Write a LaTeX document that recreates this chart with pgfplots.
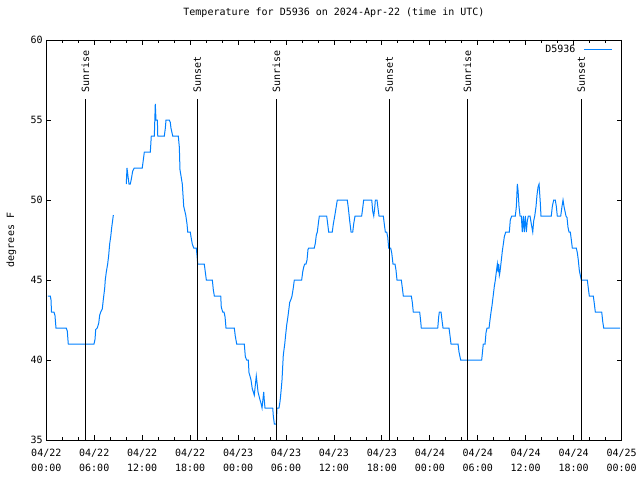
\documentclass[border=0pt]{standalone}
\usepackage{pgfplots}
\pgfplotsset{compat=1.18}
\usepackage{pgfplotstable}
\usepackage{fontspec}
\setmainfont{DejaVu Sans Mono}
\definecolor{dblue}{RGB}{0,128,255}

\pgfplotstableread{
h t
0.21 44.0
0.50 44.0
0.59 43.75
0.65 43.0
0.96 43.0
1.09 42.77
1.21 42.0
2.50 42.0
2.63 41.8
2.75 41.0
5.97 41.0
6.10 41.3
6.18 41.9
6.38 42.0
6.56 42.3
6.68 42.8
6.81 43.0
7.01 43.2
7.13 43.75
7.31 44.5
7.38 45.0
7.51 45.5
7.68 46.0
7.80 46.5
7.93 47.25
8.06 47.7
8.19 48.3
8.31 48.75
8.39 49.06
9.00 nan
10.01 51.0
10.10 52.0
10.22 51.5
10.35 51.0
10.51 51.0
10.64 51.3
10.81 51.8
11.01 52.0
12.01 52.0
12.27 53.0
13.02 53.0
13.14 54.0
13.52 54.0
13.64 56.0
13.73 55.0
13.90 55.0
13.95 54.0
14.77 54.0
14.90 54.5
14.98 55.0
15.39 55.0
15.52 54.85
15.60 54.5
15.82 54.0
16.52 54.0
16.65 53.3
16.73 51.9
17.02 51.0
17.20 49.6
17.45 49.06
17.61 48.5
17.70 48.0
18.02 48.0
18.11 47.7
18.27 47.25
18.45 47.0
18.77 47.0
18.86 46.56
18.95 46.0
19.77 46.0
19.90 45.5
20.03 45.0
20.78 45.0
20.90 44.4
21.03 44.0
21.83 44.0
21.90 43.3
22.08 43.0
22.24 43.0
22.37 42.7
22.49 42.0
23.53 42.0
23.65 41.5
23.83 41.0
24.78 41.0
24.91 40.2
25.08 40.0
25.28 40.0
25.37 39.2
25.49 39.0
25.62 38.75
25.78 38.2
25.91 38.0
26.03 37.8
26.28 39.0
26.37 38.6
26.50 38.0
26.75 37.5
26.87 37.3
27.00 37.0
27.21 38.0
27.28 37.5
27.37 37.0
28.34 37.0
28.41 36.5
28.54 36.0
28.79 36.0
28.87 37.0
29.12 37.0
29.25 37.4
29.37 38.0
29.50 38.75
29.66 40.3
29.84 41.0
29.96 41.6
30.09 42.2
30.21 42.6
30.34 43.1
30.46 43.6
30.63 43.8
30.75 44.0
30.91 44.5
31.04 45.0
31.96 45.0
32.09 45.5
32.21 45.8
32.34 46.0
32.50 46.0
32.63 46.25
32.75 46.9
32.84 47.0
33.54 47.0
33.67 47.3
33.79 47.8
33.92 48.0
34.04 48.5
34.17 49.0
35.09 49.0
35.22 48.5
35.34 48.0
35.79 48.0
35.92 48.5
36.10 49.0
36.26 49.5
36.42 50.0
37.67 50.0
37.80 49.5
37.97 48.7
38.14 48.0
38.35 48.0
38.47 48.5
38.64 49.0
39.47 49.0
39.60 49.5
39.72 50.0
40.73 50.0
40.85 49.3
40.98 49.0
41.10 49.5
41.18 50.0
41.39 50.0
41.51 49.5
41.64 49.0
42.18 49.0
42.30 48.5
42.43 48.0
42.60 48.0
42.73 47.7
42.85 47.0
43.10 47.0
43.23 46.7
43.39 46.0
43.64 46.0
43.77 45.6
43.89 45.0
44.43 45.0
44.56 44.5
44.68 44.0
45.68 44.0
45.81 43.6
45.93 43.0
46.73 43.0
46.86 42.4
46.93 42.0
48.99 42.0
49.11 42.7
49.19 43.0
49.40 43.0
49.52 42.5
49.65 42.0
50.40 42.0
50.53 41.5
50.65 41.0
51.53 41.0
51.65 40.5
51.86 40.0
54.49 40.0
54.57 40.4
54.69 41.0
54.91 41.0
55.03 41.7
55.16 42.0
55.41 42.0
55.53 42.5
55.66 43.0
55.78 43.4
55.95 44.1
56.07 44.6
56.20 45.0
56.32 45.5
56.45 46.0
56.54 45.5
56.62 46.0
56.70 45.3
56.78 45.5
56.95 46.25
57.07 46.8
57.20 47.25
57.32 47.7
57.50 48.0
57.95 48.0
58.07 48.75
58.25 49.0
58.70 49.0
58.83 49.6
58.95 51.0
59.04 50.6
59.16 49.6
59.29 49.0
59.45 49.0
59.57 48.0
59.70 49.0
59.82 48.0
59.95 49.0
60.08 48.0
60.20 48.7
60.33 49.0
60.54 49.0
60.70 48.5
60.88 48.0
61.00 48.7
61.13 49.0
61.29 49.6
61.41 50.3
61.54 50.8
61.67 51.0
61.75 50.4
61.83 49.8
61.91 49.0
63.20 49.0
63.33 49.6
63.50 50.0
63.70 50.0
63.83 49.6
63.95 49.0
64.38 49.0
64.54 49.6
64.67 50.0
64.79 49.6
65.04 49.0
65.17 48.9
65.29 48.3
65.42 48.0
65.58 48.0
65.71 47.5
65.83 47.0
66.33 47.0
66.46 46.7
66.58 46.25
66.71 45.6
66.83 45.3
66.96 45.0
67.71 45.0
67.83 44.5
67.96 44.0
68.46 44.0
68.59 43.5
68.71 43.0
69.51 43.0
69.64 42.4
69.76 42.0
71.80 42.0
}\tempdata

\begin{document}
\begin{tikzpicture}
\useasboundingbox (-46.3pt,-40pt) rectangle (593.7pt,440pt);
\fill[white] (-46.3pt,-40pt) rectangle (593.7pt,440pt);
\begin{axis}[
  scale only axis,
  width=575.3pt, height=400pt,
  at={(0pt,0pt)}, anchor=south west,
  xmin=0, xmax=72, ymin=35, ymax=60,
  xtick={0,6,...,72},
  xticklabels={04/22\\00:00,04/22\\06:00,04/22\\12:00,04/22\\18:00,04/23\\00:00,04/23\\06:00,04/23\\12:00,04/23\\18:00,04/24\\00:00,04/24\\06:00,04/24\\12:00,04/24\\18:00,04/25\\00:00},
  xticklabel style={align=center, font=\fontsize{10}{15}\selectfont, yshift=-6pt},
  minor x tick num=2,
  ytick={35,40,...,60},
  yticklabel style={font=\fontsize{10}{12}\selectfont},
  /pgf/number format/assume math mode=true,
  tick align=inside,
  major tick length=5pt,
  minor tick length=3pt,
  tick style={black, line width=0.8pt},
  axis line style={black, line width=0.8pt},
  title={Temperature for D5936 on 2024-Apr-22 (time in UTC)},
  title style={at={(axis description cs:0.5,1)}, anchor=center, yshift=21pt, font=\fontsize{10}{12}\selectfont},
  ylabel={degrees F},
  ylabel style={at={(axis description cs:-0.0608,0.5)}, anchor=center, font=\fontsize{10}{12}\selectfont},
  unbounded coords=jump,
  legend plot pos=right,
  legend cell align=right,
  legend style={draw=none, fill=none, at={(axis description cs:1,1)}, anchor=north east, xshift=-9pt, yshift=-3pt, inner sep=0pt, column sep=6pt, font=\fontsize{10}{12}\selectfont, nodes={inner sep=2pt}},
  legend image code/.code={\draw[#1, line width=1pt] (0pt,0pt) -- (28pt,0pt);},
  clip=true,
]
\addplot[dblue, line width=1pt] table[x=h, y=t] {\tempdata};
\addlegendentry{D5936}
\addplot[black, line width=1pt, forget plot] coordinates {(4.88,35) (4.88,56.3)};
\addplot[black, line width=1pt, forget plot] coordinates {(18.89,35) (18.89,56.3)};
\addplot[black, line width=1pt, forget plot] coordinates {(28.79,35) (28.79,56.3)};
\addplot[black, line width=1pt, forget plot] coordinates {(42.93,35) (42.93,56.3)};
\addplot[black, line width=1pt, forget plot] coordinates {(52.69,35) (52.69,56.3)};
\addplot[black, line width=1pt, forget plot] coordinates {(66.96,35) (66.96,56.3)};
\node[rotate=90, anchor=west, inner sep=0pt, font=\fontsize{10}{12}\selectfont] at (axis cs:4.88,56.7) {Sunrise};
\node[rotate=90, anchor=west, inner sep=0pt, font=\fontsize{10}{12}\selectfont] at (axis cs:18.89,56.7) {Sunset};
\node[rotate=90, anchor=west, inner sep=0pt, font=\fontsize{10}{12}\selectfont] at (axis cs:28.79,56.7) {Sunrise};
\node[rotate=90, anchor=west, inner sep=0pt, font=\fontsize{10}{12}\selectfont] at (axis cs:42.93,56.7) {Sunset};
\node[rotate=90, anchor=west, inner sep=0pt, font=\fontsize{10}{12}\selectfont] at (axis cs:52.69,56.7) {Sunrise};
\node[rotate=90, anchor=west, inner sep=0pt, font=\fontsize{10}{12}\selectfont] at (axis cs:66.96,56.7) {Sunset};
\end{axis}
\end{tikzpicture}
\end{document}
